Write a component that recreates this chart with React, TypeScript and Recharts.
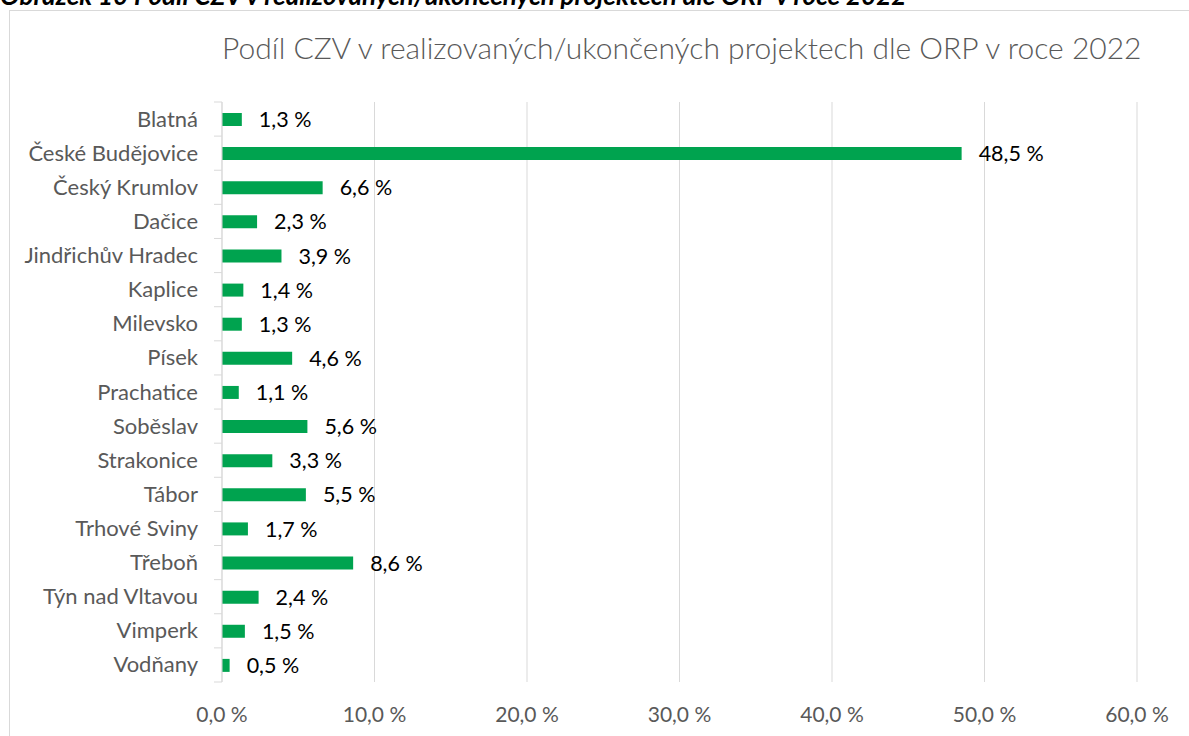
import React from 'react';
import { BarChart, Bar, XAxis, YAxis, CartesianGrid, LabelList } from 'recharts';

const categories: string[] = [
  'Blatná', 'České Budějovice', 'Český Krumlov', 'Dačice', 'Jindřichův Hradec', 'Kaplice',
  'Milevsko', 'Písek', 'Prachatice', 'Soběslav', 'Strakonice', 'Tábor', 'Trhové Sviny',
  'Třeboň', 'Týn nad Vltavou', 'Vimperk', 'Vodňany',
];
const values: number[] = [1.3, 48.5, 6.6, 2.3, 3.9, 1.4, 1.3, 4.6, 1.1, 5.6, 3.3, 5.5, 1.7, 8.6, 2.4, 1.5, 0.5];
const xTicks: number[] = [0, 10, 20, 30, 40, 50, 60];
const chartTitle = 'Podíl CZV v realizovaných/ukončených projektech dle ORP v roce 2022';
const captionText = 'Obrázek 10 Podíl CZV v realizovaných/ukončených projektech dle ORP v roce 2022';

const data = categories.map((name, i) => ({ name, value: values[i] }));

const W = 1189;
const H = 736;
const TOP = 102;
const BOTTOM = 682;
const FONT = 'Lato, "Noto Sans", sans-serif';
const GRID = '#D9D9D9';
const GREEN = '#00A34F';

const fmt = (v: any) => Number(v).toFixed(1).replace('.', ',') + ' %';

const YTick = (props: any) => {
  const { x, y, payload, index } = props;
  const band = (BOTTOM - TOP) / categories.length;
  const axisX = x + 24;
  return (
    <g>
      <text x={x} y={y} dy={7.5} textAnchor="end" fontSize={22} fill="#595959" fontFamily={FONT}>
        {payload.value}
      </text>
      <line x1={axisX - 8} x2={axisX} y1={y - band / 2} y2={y - band / 2} stroke={GRID} strokeWidth={1} />
      {index === categories.length - 1 && (
        <line x1={axisX - 8} x2={axisX} y1={y + band / 2} y2={y + band / 2} stroke={GRID} strokeWidth={1} />
      )}
    </g>
  );
};

const XTick = (props: any) => {
  const { x, y, payload } = props;
  return (
    <text x={x} y={y + 40} textAnchor="middle" fontSize={21} fill="#595959" fontFamily={FONT}>
      {fmt(payload.value)}
    </text>
  );
};

export default function App() {
  return (
    <div style={{ position: 'absolute', left: 0, top: 0, width: W, height: H, overflow: 'hidden', background: '#fff' }}>
      <div
        style={{
          position: 'absolute', left: 9, top: 10, width: W + 20, height: H + 20,
          border: '1px solid #D9D9D9', boxSizing: 'border-box',
        }}
      />
      <div style={{ position: 'absolute', left: 0, top: 0 }}>
        <BarChart
          width={W}
          height={H}
          data={data}
          layout="vertical"
          margin={{ top: TOP, right: 52, left: 0, bottom: 0 }}
          barSize={13}
        >
          <CartesianGrid horizontal={false} vertical={true} stroke={GRID} strokeWidth={1} />
          <XAxis
            type="number"
            domain={[0, 60]}
            ticks={xTicks}
            axisLine={false}
            tickLine={false}
            tickSize={0}
            tickMargin={0}
            height={H - BOTTOM}
            tick={<XTick />}
            interval={0}
          />
          <YAxis
            type="category"
            dataKey="name"
            width={222}
            axisLine={{ stroke: GRID, strokeWidth: 1 }}
            tickLine={false}
            tickSize={0}
            tickMargin={24}
            tick={<YTick />}
            interval={0}
          />
          <Bar dataKey="value" fill={GREEN} isAnimationActive={false}>
            <LabelList
              dataKey="value"
              position="right"
              offset={17}
              formatter={fmt}
              fill="#000"
              fontSize={21.5}
              fontFamily={FONT}
            />
          </Bar>
        </BarChart>
      </div>
      <svg width={W} height={H} style={{ position: 'absolute', left: 0, top: 0, pointerEvents: 'none' }}>
        <text x={0} y={5} fontFamily={FONT} fontWeight="bold" fontStyle="italic" fontSize={26} fill="#000">
          {captionText}
        </text>
        <text x={222} y={59} fontFamily={FONT} fontWeight={300} fontSize={30} fill="#595959">
          {chartTitle}
        </text>
      </svg>
    </div>
  );
}
